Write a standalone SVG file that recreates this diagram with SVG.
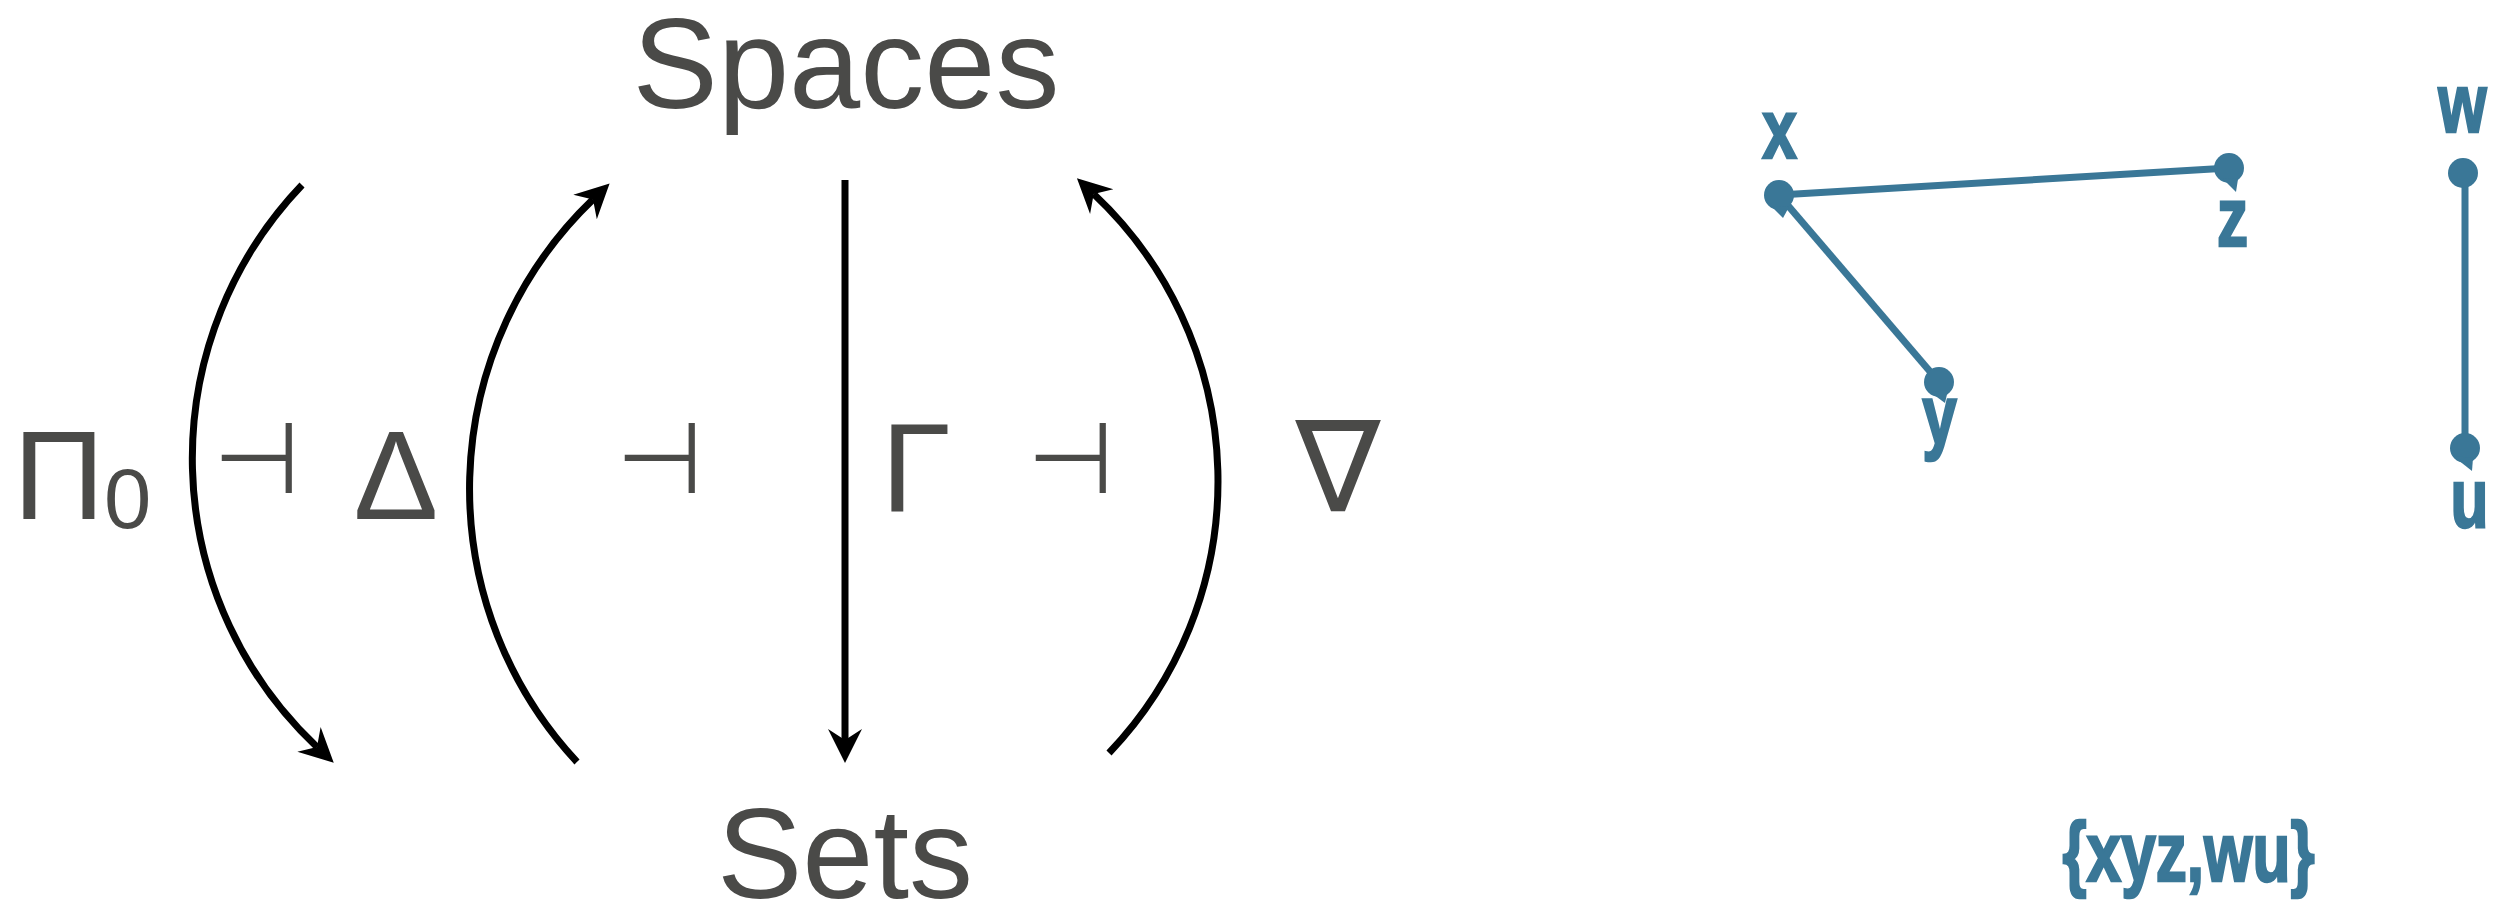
<svg xmlns="http://www.w3.org/2000/svg" width="2512" height="902" viewBox="0 0 2512 902">
<style>
.lbl{font-family:"Liberation Sans",Arial,"DejaVu Sans",sans-serif;fill:#4a4a48}
.big{font-size:128px}
.sym{font-family:"DejaVu Sans","Liberation Sans",sans-serif;fill:#4a4a48;font-size:100px;text-anchor:middle}
.arc{fill:none;stroke:#000;stroke-width:7}
.edge{fill:none;stroke:#3a7797;stroke-width:7}
.dot{fill:#3a7797}
.pl{font-family:"Liberation Sans",Arial,sans-serif;font-weight:bold;fill:#3a7797;stroke:#3a7797;stroke-width:2.5;font-size:84px;text-anchor:middle}
</style>
<defs>
<marker id="ah" markerUnits="userSpaceOnUse" markerWidth="40" markerHeight="40" refX="11" refY="17" orient="auto" overflow="visible">
<path d="M0,0 L34,17 L0,34 L11,17 Z" fill="#000"/>
</marker>
</defs>
<rect width="2512" height="902" fill="#fff"/>
<g id="connectors">
<path class="arc" d="M302,185 A396,396 0 0 0 317,747" marker-end="url(#ah)"/>
<path class="arc" d="M577,762 A401,401 0 0 1 593,199.4" marker-end="url(#ah)"/>
<path class="arc" d="M1109,753 A393.7,393.7 0 0 0 1093.7,194" marker-end="url(#ah)"/>
<path class="arc" d="M845,180 L845,740" stroke-width="5.5" marker-end="url(#ah)"/>
<line class="edge" x1="1779" y1="195" x2="2229" y2="168"/>
<line class="edge" x1="1779" y1="195" x2="1939" y2="382"/>
<line class="edge" x1="2465" y1="173" x2="2465" y2="448"/>
</g>
<g id="node-spaces"><text class="lbl big" x="846" y="108" text-anchor="middle">Spaces</text></g>
<g id="node-sets"><text class="lbl big" x="845" y="898" text-anchor="middle">Sets</text></g>
<g id="label-pi0"><text class="lbl" x="13" y="519" font-size="127">Π</text><text class="lbl" x="104" y="528" font-size="85">0</text></g>
<g id="label-adj1"><text class="sym" x="256.5" y="493">⊣</text></g>
<g id="label-delta"><text class="lbl" x="396" y="519" font-size="127" text-anchor="middle">Δ</text></g>
<g id="label-adj2"><text class="sym" x="659.5" y="493">⊣</text></g>
<g id="label-gamma"><text class="lbl" x="881" y="511" font-size="127">Γ</text></g>
<g id="label-adj3"><text class="sym" x="1070.5" y="493">⊣</text></g>
<g id="label-nabla"><text class="lbl" x="1338" y="511" font-size="127" text-anchor="middle">∇</text></g>
<g id="node-x"><circle class="dot" cx="1779" cy="195" r="15"/><polygon class="dot" points="1771,206 1789,207 1783,218"/><text class="pl" transform="translate(1779.5,158) scale(0.74,1)">x</text></g>
<g id="node-z"><circle class="dot" cx="2229" cy="168" r="15"/><polygon class="dot" points="2222,178 2238,179 2236,192"/><text class="pl" transform="translate(2232.5,246) scale(0.74,1)">z</text></g>
<g id="node-y"><circle class="dot" cx="1939" cy="382" r="15"/><polygon class="dot" points="1930,392 1948,390 1945,403"/><text class="pl" transform="translate(1939.5,444) scale(0.74,1)">y</text></g>
<g id="node-w"><circle class="dot" cx="2463" cy="173" r="15"/><text class="pl" transform="translate(2462.5,132) scale(0.74,1)">w</text></g>
<g id="node-u"><circle class="dot" cx="2465" cy="448" r="15"/><polygon class="dot" points="2453,456 2473,458 2472,471"/><text class="pl" transform="translate(2469.5,527) scale(0.74,1)">u</text></g>
<g id="label-set"><text class="pl" transform="translate(2188.5,881) scale(0.74,1)">{xyz,wu}</text></g>
</svg>
